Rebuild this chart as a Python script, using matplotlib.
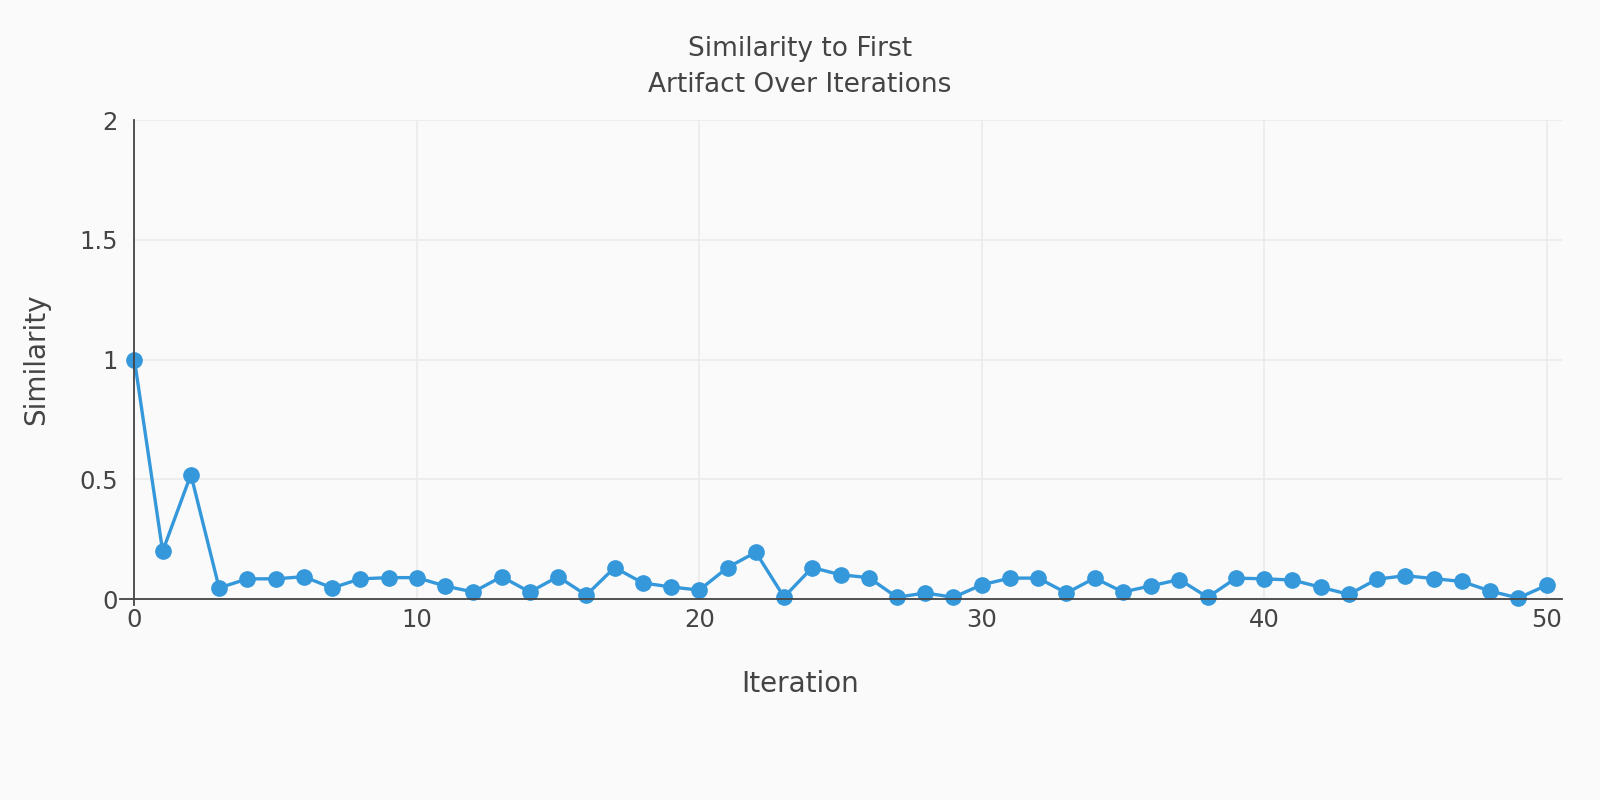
import matplotlib
matplotlib.use("Agg")
import matplotlib.pyplot as plt

iterations = list(range(51))
similarity = [1.0, 0.2, 0.52, 0.047, 0.085, 0.085, 0.094, 0.047, 0.085, 0.09,
              0.09, 0.055, 0.03, 0.094, 0.03, 0.094, 0.017, 0.132, 0.068, 0.051,
              0.038, 0.132, 0.196, 0.009, 0.132, 0.102, 0.09, 0.008, 0.026, 0.008,
              0.06, 0.088, 0.088, 0.026, 0.088, 0.03, 0.056, 0.082, 0.008, 0.088,
              0.085, 0.08, 0.05, 0.02, 0.084, 0.098, 0.086, 0.074, 0.034, 0.005,
              0.058]
xticks = [0, 10, 20, 30, 40, 50]
yticks = [0, 0.5, 1, 1.5, 2]
ytick_labels = ["0", "0.5", "1", "1.5", "2"]

plt.rcParams['font.family'] = ['DejaVu Sans']
text_color = "#444444"
bg = "#fafafa"

W, H = 1600, 800
fig = plt.figure(figsize=(16, 8), dpi=100, facecolor=bg)
ax = fig.add_axes([0.084, 0.251, 0.892, 0.599], facecolor=bg)

ax.plot(iterations, similarity, color="#3498db", linewidth=2.4, marker="o",
        markersize=11, clip_on=False, zorder=3)

ax.set_xlim(0, 50.53)
ax.set_ylim(0, 2)
ax.set_xticks(xticks)
ax.set_yticks(yticks)
ax.set_yticklabels(ytick_labels)
ax.grid(True, color="#ebebeb", linewidth=1.2)
ax.set_axisbelow(True)
ax.tick_params(axis="x", length=0, labelsize=17.5, colors=text_color, pad=6)
ax.tick_params(axis="y", length=0, labelsize=17.5, colors=text_color, pad=12)

for side in ["top", "right", "left", "bottom"]:
    ax.spines[side].set_visible(False)

# axis lines, slightly overhanging like the original
ax.plot([-0.01, 1], [0, 0], transform=ax.transAxes, color=text_color,
        linewidth=1.3, clip_on=False, zorder=4)
ax.plot([0, 0], [-0.012, 1], transform=ax.transAxes, color=text_color,
        linewidth=1.3, clip_on=False, zorder=4)

fig.text(0.5, 1 - 684 / H, "Iteration", ha="center", va="center",
         fontsize=20, color=text_color)
fig.text(36 / W, 1 - 359 / H, "Similarity", ha="center", va="center",
         rotation=90, fontsize=20, color=text_color)
fig.text(0.5, 1 - 49 / H, "Similarity to First", ha="center", va="center",
         fontsize=19, color=text_color)
fig.text(0.5, 1 - 85 / H, "Artifact Over Iterations", ha="center", va="center",
         fontsize=19, color=text_color)

fig.savefig("out.png", dpi=100, facecolor=bg)
